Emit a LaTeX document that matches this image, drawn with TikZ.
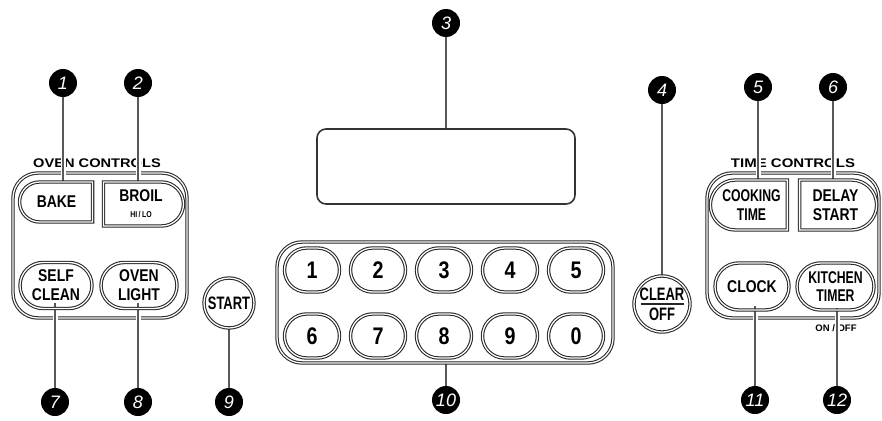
\documentclass[tikz,border=0pt]{standalone}
\usepackage{fontspec}
\setmainfont{Liberation Sans}
\newfontfamily\btnfont{Liberation Sans}[FakeStretch=0.82]
\newfontfamily\cndfont{Liberation Sans}[FakeStretch=0.72]
\usetikzlibrary{shapes.misc}
\pgfdeclarelayer{bg}
\pgfdeclarelayer{mid}
\pgfsetlayers{bg,mid,main}
\tikzset{
  dbl/.style={draw=black!85, double=white, double distance=1.3pt, line width=1.05pt},
  btn/.style={dbl, rounded rectangle, inner sep=0pt, align=center,
    font=\btnfont\bfseries\fontsize{17}{18.8}\selectfont},
  cnd/.style={font=\cndfont\bfseries\fontsize{17}{18.8}\selectfont},
  flatR/.style={rounded rectangle right arc=none},
  flatL/.style={rounded rectangle left arc=none},
  keybtn/.style={btn, minimum width=55pt, minimum height=44pt,
    font=\btnfont\bfseries\fontsize{24}{24}\selectfont},
  roundbtn/.style={dbl, circle, inner sep=0pt, align=center,
    font=\cndfont\bfseries\fontsize{18}{20}\selectfont},
  num/.style={circle, fill=black, inner sep=0pt, minimum size=28pt, text=white,
    font=\itshape\fontsize{18}{18}\selectfont},
  leader/.style={draw=black!65, line width=1.1pt, preaction={draw=white, line width=5pt}},
  grp/.style={dbl, rectangle, rounded corners=25pt, inner sep=0pt},
  title/.style={font=\bfseries\fontsize{12.5}{12.5}\selectfont},
}
\begin{document}
\begin{tikzpicture}[x=1pt, y=-1pt]
\useasboundingbox (0,0) rectangle (882,420);

% group boxes and titles
\begin{pgfonlayer}{bg}
  \node[grp, minimum width=174pt, minimum height=145pt] (ovengrp) at (100,245.5) {};
  \node[grp, minimum width=172pt, minimum height=145pt] (timegrp) at (793,245.5) {};
  \node[title] (oventitle) at (97,163) {\scalebox{1.17}[1]{OVEN CONTROLS}};
  \node[title] (timetitle) at (793,163) {\scalebox{1.2}[1]{TIME CONTROLS}};
  \node[font=\bfseries\fontsize{9.5}{9.5}\selectfont] (onoff) at (836,328) {ON / OFF};
\end{pgfonlayer}

% oven controls
\node[btn, flatR, minimum width=73pt, minimum height=40pt] (bake) at (56.5,202) {BAKE};
\node[btn, flatL, minimum width=80pt, minimum height=44pt] (broil) at (141,204)
  {BROIL\\[-3pt]{\fontsize{8.5}{8.5}\selectfont HI\,/\,LO}};
\node[btn, minimum width=72pt, minimum height=46pt] (sclean) at (56,285.5) {SELF\\CLEAN};
\node[btn, minimum width=76pt, minimum height=46pt] (olight) at (139,285.5) {OVEN\\LIGHT};

% start
\node[roundbtn, minimum size=50pt] (start) at (229,303) {START};

% display
\node[draw=black!80, line width=1.6pt, rounded corners=9pt, minimum width=258pt,
  minimum height=75pt] (display) at (446,166.5) {};

% keypad
\node[grp, minimum width=336pt, minimum height=121pt] (keypad) at (445,302.5) {};
\node[keybtn] (k1) at (312,270) {1};
\node[keybtn] (k2) at (378,270) {2};
\node[keybtn] (k3) at (444,270) {3};
\node[keybtn] (k4) at (510,270) {4};
\node[keybtn] (k5) at (576,270) {5};
\node[keybtn] (k6) at (312,336) {6};
\node[keybtn] (k7) at (378,336) {7};
\node[keybtn] (k8) at (444,336) {8};
\node[keybtn] (k9) at (510,336) {9};
\node[keybtn] (k0) at (576,336) {0};

% clear / off
\node[roundbtn, minimum size=56pt] (clear) at (662,304) {CLEAR\\OFF};
\draw[line width=1.8pt, black!85] ([xshift=-21.5pt]clear.center) -- ([xshift=21.5pt]clear.center);

% time controls
\node[btn, flatR, cnd, minimum width=77pt, minimum height=50pt] (cook) at (751.5,205) {COOKING\\TIME};
\node[btn, flatL, minimum width=77pt, minimum height=50pt] (delay) at (835.5,205) {DELAY\\START};
\node[btn, minimum width=74pt, minimum height=47pt] (clock) at (752,286.5) {CLOCK};
\node[btn, cnd, minimum width=77pt, minimum height=47pt] (ktimer) at (835.5,286.5) {KITCHEN\\TIMER};

% number markers
\node[num] (c1) at (63,83) {1};
\node[num] (c2) at (138,83) {2};
\node[num] (c3) at (446,23) {3};
\node[num] (c4) at (662,90) {4};
\node[num] (c5) at (758,87) {5};
\node[num] (c6) at (833,87) {6};
\node[num] (c7) at (55,402) {7};
\node[num] (c8) at (138,402) {8};
\node[num] (c9) at (229,402) {9};
\node[num] (c10) at (446,400) {10};
\node[num] (c11) at (755,400) {11};
\node[num] (c12) at (837,400) {12};

% leaders
\begin{pgfonlayer}{mid}
  \draw[leader] (c1) -- (c1 |- bake.north);
  \draw[leader] (c2) -- (c2 |- broil.north);
  \draw[leader] (c3) -- (c3 |- display.north);
  \draw[leader] (c4) -- (c4 |- clear.north);
  \draw[leader] (c5) -- (c5 |- cook.north);
  \draw[leader] (c6) -- (c6 |- delay.north);
  \draw[leader] (c7) -- ([yshift=6pt]c7 |- sclean.south);
  \draw[leader] (c8) -- ([yshift=6pt]c8 |- olight.south);
  \draw[leader] (c9) -- (c9 |- start.south);
  \draw[leader] (c10) -- (c10 |- keypad.south);
  \draw[leader] (c11) -- ([yshift=5pt]c11 |- clock.south);
  \draw[leader] (c12) -- ([yshift=3pt]c12 |- ktimer.south);
\end{pgfonlayer}
\end{tikzpicture}
\end{document}
